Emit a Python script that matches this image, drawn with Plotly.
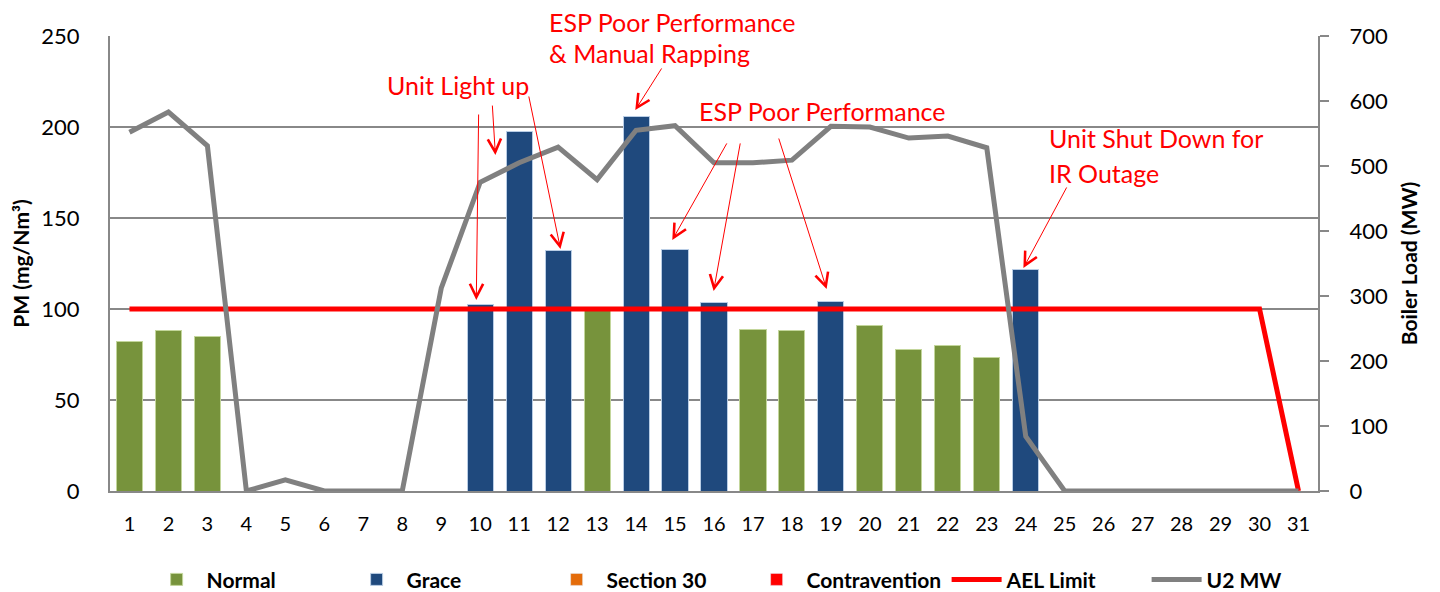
import plotly.graph_objects as go

days = list(range(1, 32))

# PM (mg/Nm3) by status, None where the day is in another category
normal = [82, 88, 85, None, None, None, None, None, None, None, None, None, 99, None, None,
          None, 89, 88, None, 91, 78, 80, 73.5, None, None, None, None, None, None, None, None]
grace = [None] * 9 + [102.5, 197.5, 132, None, 206, 132.5, 103.5, None, None, 104, None, None,
                      None, None, 121.5, None, None, None, None, None, None, None]
section30 = [None] * 31
contravention = [None] * 31

ael_limit = [100] * 30 + [0]
u2_mw = [552, 583, 531, 0, 17, 0, 0, 0, 312, 475, 505, 529, 479, 555, 562, 505, 505, 509,
         561, 560, 543, 546, 528, 84, 0, 0, 0, 0, 0, 0, 0]

FONT = "Lato"
RED = "#FF0000"
GRID = "#888888"

fig = go.Figure()
fig.add_trace(go.Bar(x=days, y=normal, name="Normal", marker_color="#77933C",
                     marker_line=dict(color="#C3D69B", width=1)))
fig.add_trace(go.Bar(x=days, y=grace, name="Grace", marker_color="#1F497D",
                     marker_line=dict(color="#B9CDE5", width=1)))
fig.add_trace(go.Bar(x=days, y=section30, name="Section 30", marker_color="#E46C0A"))
fig.add_trace(go.Bar(x=days, y=contravention, name="Contravention", marker_color=RED))
fig.add_trace(go.Scatter(x=days, y=ael_limit, name="AEL Limit", mode="lines",
                         line=dict(color=RED, width=5)))
fig.add_trace(go.Scatter(x=days, y=u2_mw, name="U2 MW", mode="lines", yaxis="y2",
                         line=dict(color="#808080", width=5)))

# annotation text blocks: (x, y, yref, text, anchor)
labels = [
    (9.44, 223, "y", "Unit Light up", "center"),
    (11.73, 1.031, "paper", "ESP Poor Performance", "left"),
    (11.73, 240.5, "y", "& Manual Rapping", "left"),
    (15.58, 209, "y", "ESP Poor Performance", "left"),
    (24.56, 194, "y", "Unit Shut Down for", "left"),
    (24.56, 175, "y", "IR Outage", "left"),
]
for x, y, yref, t, anc in labels:
    fig.add_annotation(x=x, y=y, yref=yref, text=t, showarrow=False, xanchor=anc,
                       yanchor="middle", borderpad=0,
                       font=dict(family=FONT, size=25, color=RED))

# arrows: (head x, head y, tail x, tail y)
arrows = [
    (9.90, 105, 9.96, 207.7),
    (10.39, 184.6, 10.31, 212.6),
    (12.06, 133, 11.24, 217.6),
    (13.98, 209.3, 14.68, 233),
    (14.93, 137.9, 16.35, 191.8),
    (15.99, 109.9, 16.68, 191.8),
    (18.89, 111, 17.65, 194.5),
    (23.94, 122.5, 25.07, 167.6),
]
for hx, hy, tx, ty in arrows:
    fig.add_annotation(x=hx, y=hy, ax=tx, ay=ty, axref="x", ayref="y", text="",
                       showarrow=True, arrowhead=5, arrowsize=2.6, arrowwidth=1,
                       arrowcolor=RED)

fig.update_layout(
    width=1440, height=592, barmode="stack", bargap=0.33,
    plot_bgcolor="white", paper_bgcolor="white",
    margin=dict(l=102, r=130, t=28, b=109, autoexpand=False),
    font=dict(family=FONT, size=20, color="black"),
    showlegend=True,
    legend=dict(orientation="h", x=0.527, xanchor="center", y=-0.15, yanchor="top",
                traceorder="normal",
                font=dict(family=FONT, size=21, weight="bold"), entrywidth=135,
                itemwidth=50),
    xaxis=dict(range=[0.5, 31.5], tickvals=days, showline=True, linecolor=GRID,
               linewidth=2, showgrid=False, ticks="", ticklabelstandoff=14,
               tickfont=dict(size=20), automargin=False),
    yaxis=dict(range=[0, 250], dtick=50, showline=True, linecolor=GRID, linewidth=2,
               showgrid=True, gridcolor=GRID, gridwidth=2, zeroline=False,
               ticks="", ticklabelstandoff=24, tickfont=dict(size=22), automargin=False,
               title=dict(text="PM (mg/Nm³)", font=dict(size=21, weight="bold"))),
    yaxis2=dict(range=[0, 700], dtick=100, overlaying="y", side="right", showline=True,
                linecolor=GRID, linewidth=2, showgrid=False, zeroline=False,
                ticks="outside", ticklen=9, tickcolor=GRID, tickwidth=2,
                ticklabelstandoff=16, tickfont=dict(size=22), automargin=False,
                title=dict(text="Boiler Load (MW)", font=dict(size=21, weight="bold"))),
)

fig.write_html("out.html")
